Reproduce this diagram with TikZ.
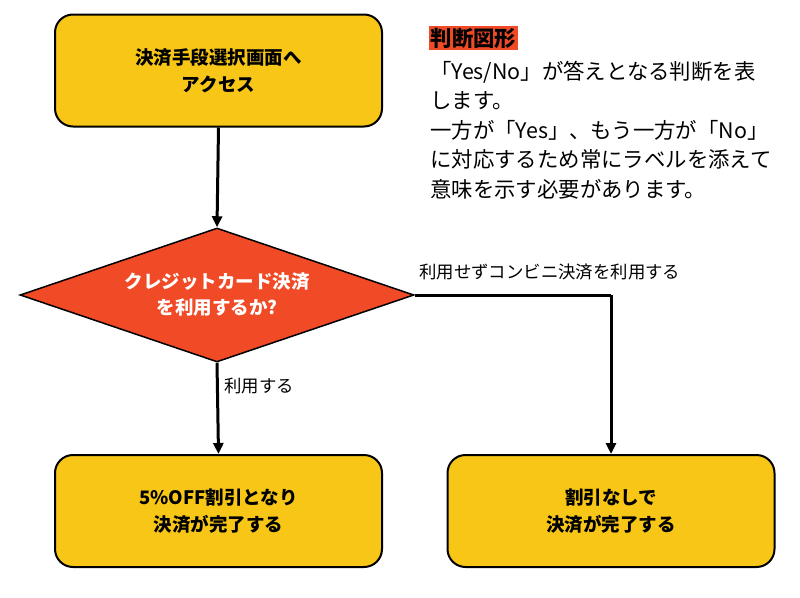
\documentclass[tikz,border=0pt]{standalone}
\usepackage{fontspec}
\setmainfont{Noto Sans CJK JP}
\usetikzlibrary{arrows.meta,shapes.geometric}
\definecolor{boxyellow}{RGB}{247,198,22}
\definecolor{decred}{RGB}{240,74,38}
\tikzset{
  procbox/.style={draw=black, line width=2pt, fill=boxyellow, rounded corners=18pt,
    minimum width=327pt, minimum height=112pt, align=center, inner sep=0pt,
    font=\fontsize{18.5}{27}\selectfont\bfseries},
  decbox/.style={draw=black, line width=1.5pt, fill=decred, diamond, shape aspect=2.94,
    minimum width=394pt, minimum height=134pt, inner sep=0pt, align=center, text=white,
    font=\fontsize{18.5}{26}\selectfont\bfseries},
  conn/.style={line width=3pt, -{Triangle[length=11pt,width=10pt]}},
  lbl/.style={font=\fontsize{17.4}{20}\selectfont, anchor=west, inner sep=0pt},
  desc/.style={font=\fontsize{21.4}{30}\selectfont, anchor=base west, inner sep=0pt}
}
\begin{document}
\begin{tikzpicture}[x=1pt,y=-1pt]
\useasboundingbox (0,0) rectangle (800,597);
\fill[white] (0,0) rectangle (800,597);
\node[procbox] (start) at (218.5,70.5) {決済手段選択画面へ\\アクセス};
\node[decbox] (dec) at (217,295) {クレジットカード決済\\を利用するか?};
\node[procbox] (yes) at (218.5,511) {5\%OFF割引となり\\決済が完了する};
\node[procbox] (no) at (611,511) {割引なしで\\決済が完了する};
\coordinate (corner) at (611,295);
\draw[conn] (start.south) -- (dec.north);
\draw[conn] (dec.south) -- (yes.north);
\draw[line width=3pt] (dec.east) -- (corner);
\draw[conn] (corner) -- (no.north);
\node[lbl] (lno) at (419,272) {利用せずコンビニ決済を利用する};
\node[lbl] (lyes) at (224,386) {利用する};
\node[fill=decred, inner sep=1.5pt, anchor=west, font=\fontsize{21.4}{24}\selectfont\bfseries] (title) at (429,38) {判断図形};
\node[desc] (d1) at (430,79) {「Yes/No」が答えとなる判断を表};
\node[desc] (d2) at (430,108.5) {します。};
\node[desc] (d3) at (430,138) {一方が「Yes」、もう一方が「No」};
\node[desc] (d4) at (430,167.5) {に対応するため常にラベルを添えて};
\node[desc] (d5) at (430,197) {意味を示す必要があります。};
\end{tikzpicture}
\end{document}
